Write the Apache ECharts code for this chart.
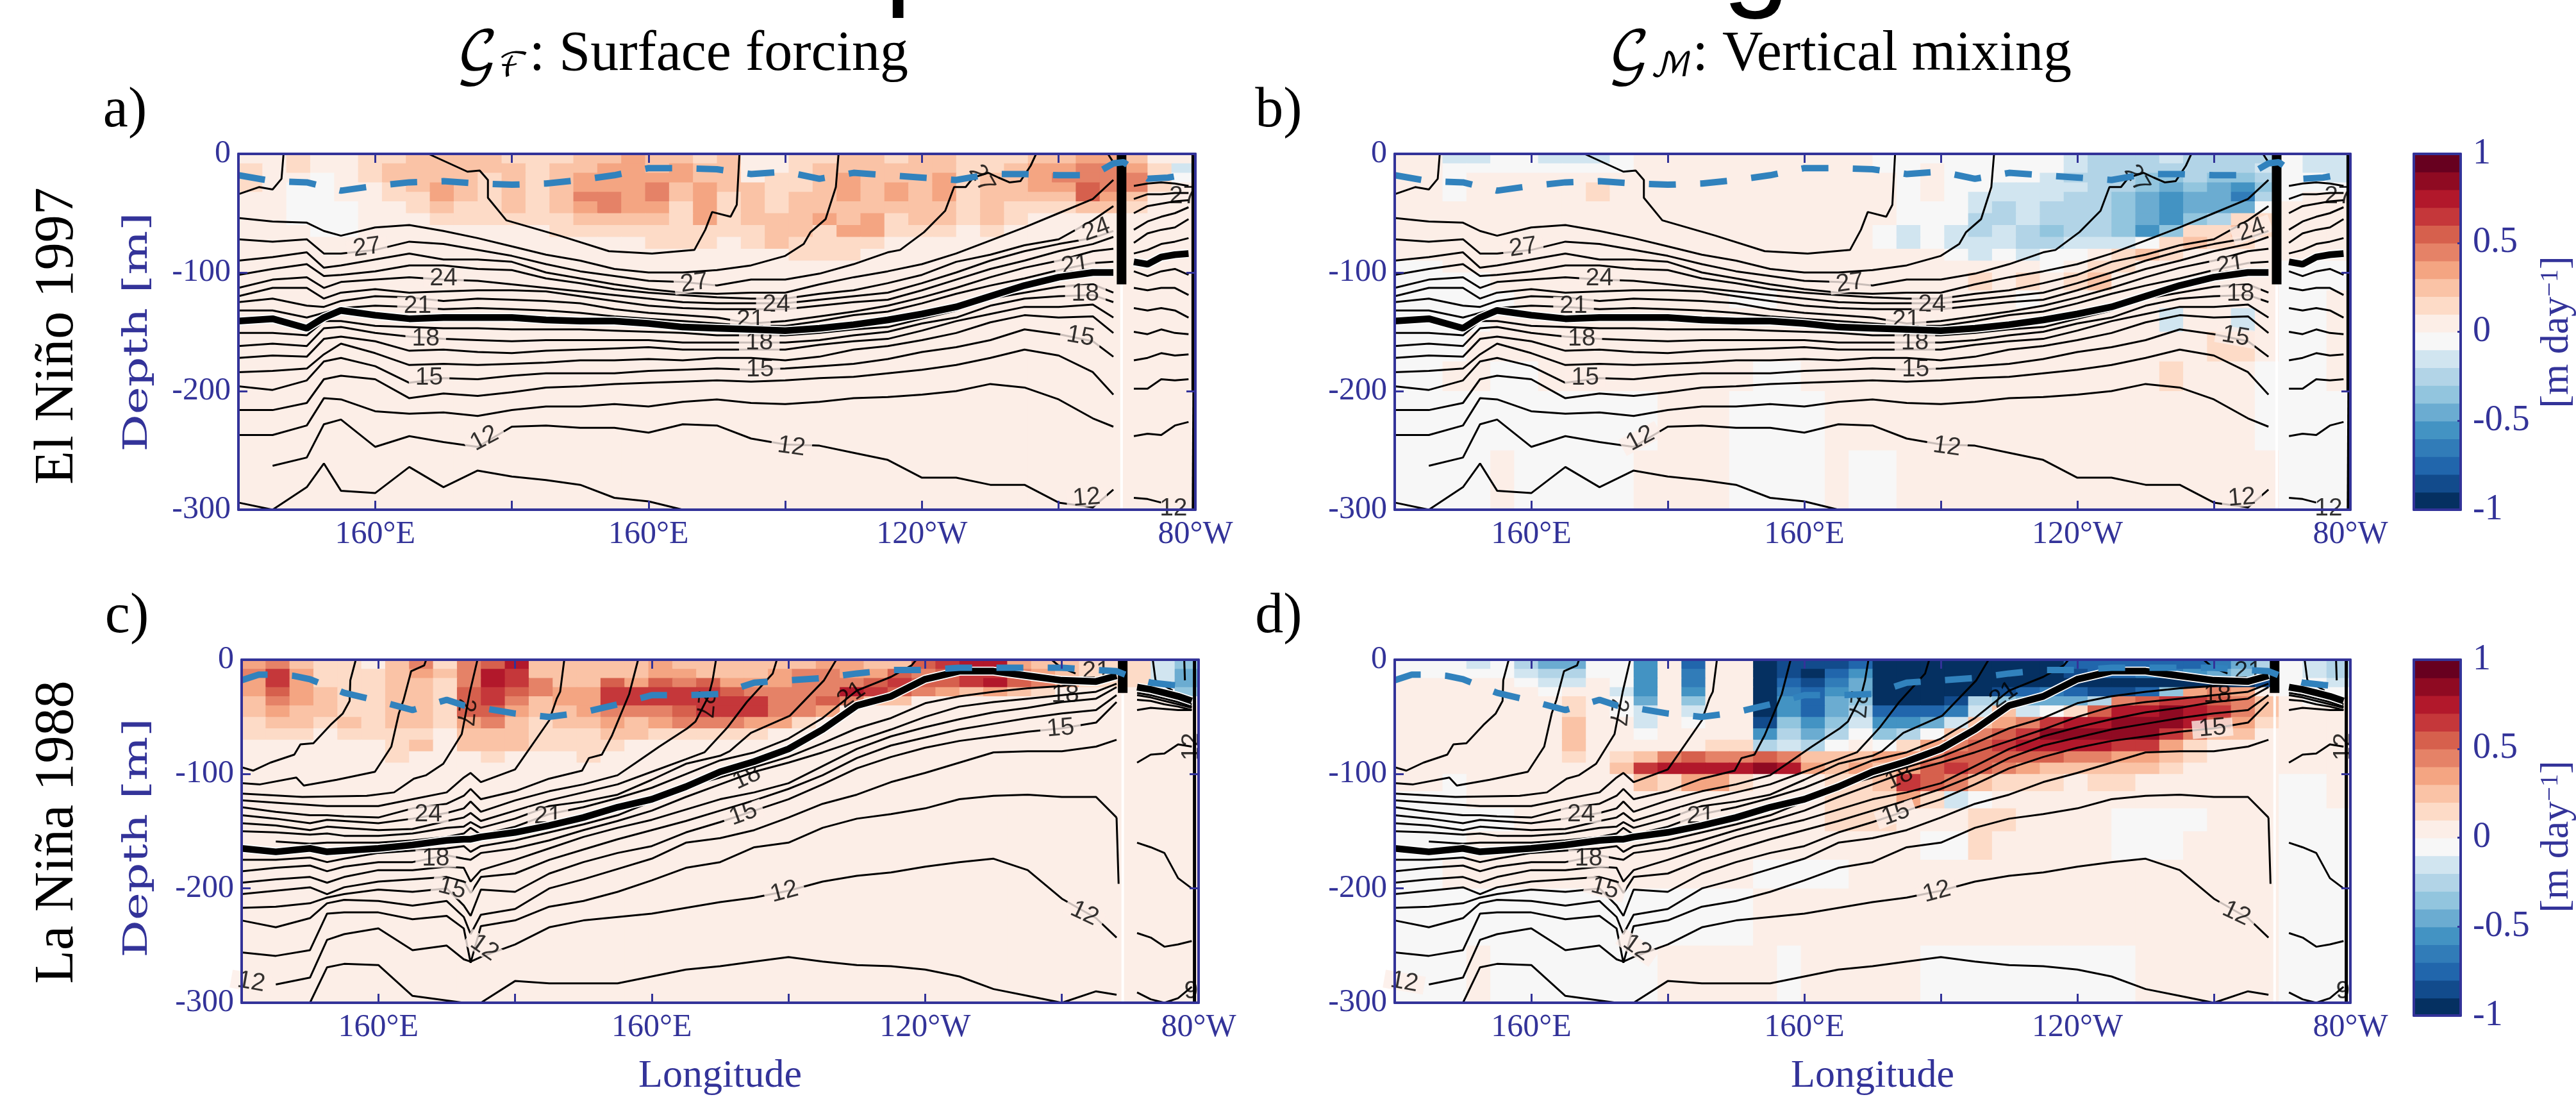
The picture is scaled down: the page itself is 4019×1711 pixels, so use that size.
<!DOCTYPE html>
<html><head><meta charset="utf-8">
<style>html,body{margin:0;padding:0;background:#fff;overflow:hidden}#c{width:4019px;height:1711px}</style>
<script src="https://cdn.jsdelivr.net/npm/echarts@6/dist/echarts.min.js"></script>
</head><body><div id="c"></div>
<script>
// Colour classes of the tendency, one band = 0.1 m/day
const posColors=['#fceee7','#fddbc7','#fac3a6','#f4a582','#e58267','#d6604d','#c5373a','#b2182b','#8f0a22','#67001f'];
const negColors=['#f7f7f7','#d1e5f0','#b2d4e7','#92c5de','#6bacd1','#4393c3','#317cb8','#2166ac','#124b8c','#053061'];
const colorbarBands=[-10,-9,-8,-7,-6,-5,-4,-3,-2,-1,1,2,3,4,5,6,7,8,9,10];
const tickNames={160:'160°E',200:'160°E',240:'120°W',280:'80°W'};
const depthEdges=[0,8,16,24,32,40,50,60,70,80,90,100,115,130,150,175,200,250,300];
const cellLon=3.5;
// a) surface forcing 1997
const heatA=[
[1,1,2,1,1,2,2,3,3,3,3,2,2,2,3,3,4,3,3,2,3,1,1,2,2,3,3,2,3,3,2,2,2,3,3,4,4,3,1,1],
[2,1,2,1,1,2,3,3,3,3,3,3,2,3,3,4,4,3,4,3,3,1,1,2,3,3,3,3,3,3,2,2,3,4,4,5,5,4,2,-2],
[2,1,1,-1,1,2,3,3,3,3,2,3,2,3,4,4,4,4,4,3,3,1,2,2,3,4,3,3,3,4,2,3,3,4,5,5,5,5,2,-1],
[2,1,-1,-1,1,1,2,3,4,3,2,3,2,3,4,4,4,5,3,4,3,3,2,2,3,4,3,4,3,4,2,3,3,4,4,6,5,5,2,1],
[1,1,-1,-1,1,1,2,2,4,3,2,3,2,3,5,5,4,5,3,4,2,3,2,3,3,4,3,4,3,4,2,3,3,3,3,6,4,3,1,1],
[1,1,-1,-1,-1,1,1,2,3,2,2,3,2,3,4,5,4,4,2,4,2,3,2,3,3,3,3,3,3,3,2,3,2,2,2,3,3,2,1,1],
[1,1,-1,-1,-1,1,1,1,2,2,2,2,2,2,3,3,3,3,2,4,2,3,3,3,4,3,4,2,3,3,2,3,2,1,1,1,1,1,1,1],
[1,1,1,-1,-1,1,1,1,1,1,1,1,1,2,2,2,2,2,2,2,2,2,3,3,2,4,4,2,2,2,1,2,1,1,1,1,1,1,1,1],
[1,1,1,1,1,1,1,1,1,1,1,1,1,1,1,1,1,2,2,2,1,2,3,2,2,2,2,1,1,1,1,1,1,1,1,1,1,1,1,1],
[1,1,1,1,1,1,1,1,1,1,1,1,1,1,1,1,1,1,1,1,1,1,1,2,2,2,1,1,1,1,1,1,1,1,1,1,1,1,1,1]];
// b) vertical mixing 1997
const heatB=[
[1,1,-2,-2,-1,-1,-2,-2,-2,-1,1,1,1,1,1,1,1,1,1,1,-1,-1,-1,-1,-1,-1,-1,-1,-2,-3,-3,-3,-2,-3,-3,-3,-3,-1,-2,-2],
[1,1,-1,-1,-1,-1,-1,-1,-1,-1,1,1,1,1,1,1,1,1,1,1,-1,-1,1,-1,-1,-1,-1,-1,-2,-3,-3,-3,-3,-3,-3,-3,-2,-1,-2,-2],
[1,1,-1,1,1,1,1,1,1,1,1,1,1,1,1,1,1,1,1,1,1,-1,1,-1,-1,-1,-1,-2,-3,-3,-3,-4,-4,-3,-4,-4,-3,-1,-1,-2],
[1,1,-1,1,1,1,1,1,2,1,1,1,1,1,1,1,1,1,1,1,1,-1,1,-1,-1,-2,-2,-2,-2,-3,-3,-4,-5,-4,-5,-6,-4,-1,-1,-1],
[1,1,-1,1,1,1,1,1,2,1,1,1,1,1,1,1,1,1,1,1,1,-1,1,-1,-2,-2,-2,-2,-3,-3,-4,-5,-6,-5,-5,-7,-3,-1,1,1],
[1,1,1,1,1,1,1,1,1,1,1,1,1,1,1,1,1,1,1,1,1,-1,-1,-1,-2,-3,-2,-3,-3,-3,-4,-5,-6,-5,-5,-5,-1,1,1,1],
[1,1,1,1,1,1,1,1,1,1,1,1,1,1,1,1,1,1,1,1,1,-1,-1,-1,-3,-3,-2,-3,-3,-3,-4,-5,-6,-4,-3,2,2,1,1,1],
[1,1,1,1,1,1,1,1,1,1,1,1,1,1,1,1,1,1,1,1,-1,-2,-1,-2,-3,-2,-3,-4,-3,-3,-4,-6,-4,2,2,3,2,1,1,1],
[1,1,1,1,1,1,1,1,1,1,1,1,1,1,1,1,1,1,1,1,-1,-2,-1,-2,-2,-2,-3,-3,-2,-2,-2,-1,2,3,2,2,1,1,1,1],
[1,1,1,1,1,1,1,1,1,1,1,1,1,1,1,1,1,1,1,1,1,1,1,-1,-2,-1,-2,-1,-1,1,2,3,2,1,1,1,1,1,1,1],
[-1,-1,1,1,1,1,1,1,1,1,1,1,1,1,1,1,1,1,1,1,1,1,1,1,1,1,1,-1,1,2,2,1,1,1,1,1,1,-1,-1,-1],
[-1,-1,-1,-1,1,1,1,1,1,1,1,1,1,1,1,1,1,1,1,1,1,1,1,1,2,1,2,1,2,3,1,1,1,1,1,1,1,-1,-1,-1],
[-1,-1,-1,-1,-1,1,1,1,1,1,1,1,1,1,-1,-1,1,1,1,1,1,1,1,1,1,1,-1,1,1,1,1,1,1,1,1,1,1,-1,-1,1],
[-1,-1,-1,-1,1,1,1,1,1,1,1,1,1,1,1,1,1,1,1,1,1,1,1,1,1,1,1,1,1,1,1,1,-2,1,1,-2,1,-1,-1,1],
[-1,-1,-1,1,1,1,1,1,1,1,1,1,1,1,1,1,1,1,1,1,1,1,1,1,1,1,1,1,1,1,1,1,1,1,2,2,1,-1,-1,1],
[-1,-1,1,1,-1,-1,1,1,1,1,1,1,1,1,1,-1,-1,1,1,1,1,1,1,1,1,1,1,1,1,1,1,1,2,1,1,1,-1,-1,-1,1],
[-1,-1,-1,-1,-1,-1,-1,-1,-1,-1,-1,1,1,1,-1,-1,-1,-1,1,1,1,1,1,1,1,1,1,1,1,1,1,1,1,1,1,1,-1,-1,-1,-1],
[-1,-1,-1,-1,1,-1,-1,-1,-1,-1,1,1,1,1,-1,-1,-1,-1,1,-1,-1,1,1,1,1,1,1,1,1,1,1,1,1,1,1,1,1,-1,-1,-1]];
// c) surface forcing 1988
const heatC=[
[4,5,3,2,2,1,3,5,2,5,6,8,3,3,3,3,3,4,3,3,3,3,3,3,4,4,3,3,6,7,8,8,4,3,3,2,2,2,-2,-4],
[5,7,4,2,2,2,3,4,3,5,8,7,3,3,3,3,3,4,4,3,3,3,4,5,5,4,4,6,5,6,7,7,5,4,3,2,2,2,-2,-5],
[4,7,4,2,2,2,3,3,2,5,8,7,5,3,3,6,4,6,5,6,4,4,4,5,5,5,6,7,6,6,7,8,6,5,4,2,2,2,-2,-5],
[4,6,4,3,2,2,3,3,2,6,7,6,5,4,4,7,7,7,7,7,6,5,5,5,5,8,7,6,5,4,3,4,3,2,1,1,1,1,-1,-4],
[3,5,4,3,2,2,3,3,2,6,7,5,3,4,4,7,7,7,7,7,7,7,5,5,6,5,3,3,1,1,1,1,1,1,1,1,1,1,1,-1],
[3,4,3,3,2,2,3,3,2,6,6,4,3,3,4,5,5,5,6,7,7,7,5,5,4,1,1,1,1,1,1,1,1,1,1,1,1,1,1,1],
[2,3,3,2,3,2,3,3,2,4,5,3,2,3,3,4,3,4,5,5,5,4,4,2,1,1,1,1,1,1,1,1,1,1,1,1,1,1,1,1],
[2,2,2,1,2,2,2,2,1,3,3,3,2,2,2,3,3,2,2,2,2,2,1,1,1,1,1,1,1,1,1,1,1,1,1,1,1,1,1,1],
[1,1,1,1,1,1,2,3,1,3,3,3,2,2,2,2,1,1,1,1,1,1,1,1,1,1,1,1,1,1,1,1,1,1,1,1,1,1,1,1],
[1,1,1,1,1,1,2,1,1,1,2,1,1,1,2,1,1,1,1,1,1,1,1,1,1,1,1,1,1,1,1,1,1,1,1,1,1,1,1,1]];
// d) vertical mixing 1988
const heatD=[
[-1,-1,-1,-2,-1,-3,-5,-5,-1,-1,-6,1,-8,1,1,-10,-9,-9,-9,-8,-10,-10,-10,-10,-10,-10,-10,-10,-8,-8,-8,-8,-8,-8,-7,-5,-3,-1,-2,-3],
[-1,-1,-1,-1,-1,-2,-3,-3,-1,-1,-6,1,-7,1,1,-10,-9,-10,-8,-6,-10,-10,-10,-10,-10,-10,-10,-10,-9,-8,-8,-7,-7,-6,-5,-4,-3,-1,-2,-3],
[1,1,1,1,1,-1,-2,-2,1,-1,-6,1,-7,1,1,-10,-8,-9,-7,-5,-10,-10,-10,-10,-10,-10,-10,-10,-10,-10,-10,-10,-10,-10,-10,-10,-9,-1,-1,-2],
[1,1,1,1,1,1,-1,1,1,-2,-6,1,-6,1,1,-10,-7,-8,-6,-5,-10,-10,-10,-10,-10,-9,-8,-7,-8,-9,-9,-8,-4,4,5,4,1,-1,-1,-1],
[1,1,1,1,1,1,1,2,1,-1,-5,1,-4,1,1,-10,-6,-8,-5,-4,-10,-10,-10,-9,-3,-4,-5,-5,-5,-3,5,6,7,7,6,5,3,1,-1,1],
[1,1,1,1,1,1,1,2,1,-1,-2,1,-2,1,1,-10,-6,-8,-5,-3,-8,-8,-8,-7,-2,3,-2,-1,2,6,8,8,9,8,7,5,3,1,1,1],
[1,1,1,1,1,1,1,3,1,1,-2,1,-1,1,1,-9,-4,-6,-4,-2,-6,-6,-5,-2,3,4,5,7,8,8,9,9,9,8,6,4,2,1,1,1],
[1,1,1,1,1,1,1,3,1,1,-1,1,1,1,1,-6,-3,-5,-3,-1,-4,-3,-1,3,5,6,7,9,9,9,9,9,7,5,3,3,1,1,1,1],
[1,1,1,1,1,1,1,3,1,1,1,1,1,2,2,-3,-2,-3,-1,1,-1,2,4,5,6,7,8,8,8,8,7,7,4,2,1,1,1,1,1,1],
[1,1,1,1,1,1,1,2,1,2,3,5,6,5,5,6,5,3,3,3,4,4,5,6,6,6,6,6,5,5,4,4,3,2,1,1,1,1,1,1],
[1,1,1,1,1,1,1,1,1,3,7,8,8,8,8,9,8,4,3,4,3,4,6,7,6,5,4,3,3,3,3,3,2,1,1,1,1,1,1,1],
[1,1,-1,1,1,1,1,1,1,1,3,2,4,4,2,1,1,1,2,2,3,7,6,5,3,2,2,2,1,2,2,1,1,1,1,1,1,-1,-1,1],
[-1,-1,-1,1,1,1,1,1,1,1,1,1,1,1,1,1,1,1,2,2,2,4,2,-2,-1,1,1,1,1,1,1,1,1,1,1,1,1,-1,-1,1],
[-1,-1,-1,-1,-1,1,1,1,1,1,1,1,1,1,1,1,1,1,2,2,2,1,1,1,2,2,1,1,1,1,-1,-1,-1,-1,1,1,1,-1,-1,-1],
[-1,-1,-1,1,1,1,1,1,1,1,1,1,1,1,1,1,1,1,1,1,1,1,-1,-1,2,1,1,1,1,1,-1,-1,-1,1,1,1,1,-1,-1,-1],
[-1,-1,1,1,1,1,1,1,1,1,1,1,1,1,1,-1,-1,-1,-1,1,1,1,1,1,1,1,1,1,1,1,1,1,1,1,1,1,1,-1,-1,-1],
[-1,-1,-1,-1,-1,-1,-1,-1,-1,-1,-1,-1,-1,-1,-1,1,1,1,1,1,1,1,1,1,1,1,1,1,1,1,1,1,1,1,1,1,1,-1,-1,-1],
[-1,-1,-1,1,-1,-1,-1,-1,-1,-1,-1,1,1,1,1,1,-1,1,1,1,1,1,-1,-1,-1,-1,-1,-1,-1,-1,-1,1,1,1,1,1,1,-1,-1,-1]];

// isotherm depths (m) sampled at these longitudes; null breaks the line at the land gap
const lon97=[140,145,150,152.5,155,160,165,170,175,180,185,190,195,200,205,210,215,220,225,230,235,240,245,250,255,260,265,268,269.5,271,273,275,277,279];
const iso97=[
[54,57,58,65,69,62,60,65,71,78,85,90,97,100,100,98,94,86],
[72,74,72,84,84,81,74,76,81,86,93,99,103,107,108,111,106,106,101,93,83],
[90,87,83,96,94,89,84,89,89,91,100,105,110,114,117,118,117,117,110,104,99,93,84,73,62,50,38,22,null,27,25,24,25,27],
[102,97,93,103,102,99,94,94,97,98,105,109,114,117,119,121,122,122,118,115,109,102,91,85,77,72,56,44,null,38,34,34,33,33],
[113,106,104,113,108,106,104,106,107,110,113,116,119,122,125,126,126,126,123,120,117,109,100,90,82,76,71,65,null,50,44,42,40,39],
[120,113,113,122,117,114,117,116,115,115,116,120,124,128,130,131,131,131,128,125,123,115,106,97,90,82,76,70,null,64,57,53,50,45],
[125,122,128,129,124,120,121,124,122,123,124,126,131,134,136,138,143,141,137,133,128,121,113,104,96,90,82,80,null,75,67,64,62,55],
[132,132,138,134,130,128,129,131,130,131,132,134,137,139,141,143,145,145,141,136,133,126,118,111,105,98,92,91,null,84,81,76,74,71],
[151,151,153,141,141,145,146,147,147,148,148,148,149,150,151,153,153,153,151,148,146,139,132,122,117,112,110,117,null,99,103,99,97,102],
[162,160,162,147,146,151,154,156,157,158,157,157,157,157,159,159,159,159,157,153,150,143,138,128,122,120,119,125,null,113,115,113,113,119],
[172,170,171,156,154,158,166,165,167,168,166,165,164,163,165,165,165,165,161,158,156,149,141,135,129,129,127,138,null,130,132,130,132,138],
[184,183,181,169,160,168,178,177,178,177,176,174,174,173,174,172,172,174,171,165,162,157,151,142,136,138,137,151,null,150,152,148,151,152],
[196,199,191,175,172,179,193,189,190,187,185,185,185,183,182,181,182,181,179,177,173,167,163,157,148,152,158,171,null,174,172,168,170,169],
[216,216,210,190,187,190,206,202,204,201,197,196,194,193,192,191,192,191,189,188,185,182,178,172,165,170,184,203,null,198,198,190,191,190],
[237,237,229,206,207,217,219,218,221,216,213,213,211,213,209,207,210,211,209,206,205,203,200,194,197,207,223,230,null,238,236,237,229,226],
[null,263,256,228,224,247,238,243,247,230,229,231,231,235,228,229,240,245,246,252,258,273,273,279,279,294,298,283,null,290,291,294],
[294,300,281,261,284,286,264,281,267,272,275,279,290,293,300]];
const thermocline97=[141,139,147,138,132,136,139,138,138,138,140,141,141,143,146,147,148,149,147,144,140,135,129,120,111,104,100,100,null,91,93,87,85,84];
const tails97=[
[[222.7,76],[223.7,66],[225.9,55],[227.4,28],[227.8,0]],
[[236.8,81],[240.3,66],[243.4,48],[244.7,28],[246.4,28],[247.5,20],[249.7,16],[251.2,20],[252.8,24],[254.4,23],[255.9,10],[256.7,0]]];
const surface97=[
[[140,34],[143,28],[145,30],[146.3,21],[146.6,0]],
[[167.8,0],[173.5,15],[175.3,14],[176.5,22],[176.5,37],[179.2,56],[187,69],[194.2,82],[200.5,84],[206.7,81],[208.3,64],[209.3,49],[212,53],[212.9,43],[213.3,0]],
[[267.2,0],[268.2,9]]];
const mldLon97=[140,145,150,155,160,165,170,175,180,185,190,195,200,205,210,215,220,225,230,235,240,245,250,255,260,265,268,269.5,273,276,279.8];
const mld97=[18,23,24,31,27,24,23,25,26,25,22,18,12,12,13,17,15,21,16,18,20,22,17,17,18,18,8,7,21,20,16];
// lon, depth, text, rotation, masked
const labels97=[[158.8,79,'27',8,1],[170,105,'24',0,1],[166.2,128,'21',0,1],[167.4,156,'18',0,1],[167.9,189,'15',0,1],[176,240,'12',28,1],
[206.7,109,'27',8,1],[218.7,127,'24',0,1],[214.9,140,'21',0,1],[216.2,159,'18',0,1],[216.3,182,'15',0,1],[220.9,247,'12',-8,1],
[265.5,64,'24',20,1],[262.4,94,'21',8,1],[263.9,118,'18',0,1],[263.2,154,'15',-10,1],[264.1,290,'12',5,1],[276.8,299,'12',0,0],[248.7,21,'27',-60,0],[278.2,36,'27',0,0]];
const wall97=[[[279.8,0],[279.8,200]],[[279.8,200],[279.7,300]]];
const bar97=[[269.2,0],[269.2,110]];
const gap97=[[269.2,110],[269.2,300]];

const lon88=[140,145,150,152.5,155,160,165,170,172.5,173.5,175,180,185,190,195,200,205,210,215,220,225,230,235,240,245,250,255,260,265,268,269.5,271,273,275,277,279];
const iso88=[
[123,125,127,128,128,128,122,116,103,99,107,96,53],
[129,133,136,136,137,138,130,126,119,113,122,115,104],
[136,139,143,140,141,143,139,134,130,124,133,123,115,109,101],
[143,145,149,146,147,149,148,141,138,134,141,132,123,116,109,98,87],
[150,151,153,152,154,154,152,147,146,142,147,139,128,124,118,105,91,84],
[null,159,161,160,160,160,158,155,152,147,153,146,135,129,121,112,100,88,81,69,51,27,15],
[175,175,173,177,174,169,167,165,163,168,163,158,151,144,136,124,111,103,94,85,73,60,51,38,32,28,25,23,19,16,null,27,29,32,35,39],
[185,182,180,185,181,177,177,171,174,175,169,165,158,149,141,132,120,109,98,90,81,71,61,50,41,37,34,31,28,21,null,29,31,34,37,41],
[195,192,190,195,190,184,184,181,182,194,184,175,165,155,147,140,131,122,116,108,93,78,67,59,52,46,42,37,34,24,null,31,33,36,39,42],
[205,202,199,205,199,194,192,190,194,204,190,187,175,166,157,149,141,132,123,113,101,86,75,68,61,56,51,47,44,31,null,35,36,39,41,44],
[217,216,213,208,205,201,203,200,215,224,201,203,187,177,169,163,151,142,132,122,109,95,85,77,71,67,63,60,55,37,null,44,42,43,44,44],
[228,234,226,213,210,211,215,211,225,240,223,218,200,192,183,174,160,156,149,138,126,118,107,99,90,81,80,80,76,70,null,90,83,82,74,76],
[256,259,254,222,221,221,227,224,235,265,233,228,216,211,203,193,182,177,164,160,147,139,135,130,122,119,118,120,120,138,null,160,164,169,191,200],
[null,284,278,245,240,235,254,250,262,264,260,249,234,228,225,222,217,212,208,202,194,189,186,181,177,174,184,209,226,243,null,239,243,251,249,246],
[null,null,300,269,266,267,294,298,300,300,300,281,283,283,283,277,271,268,264,260,264,267,268,271,277,288,294,300,290,293,null,291,297,300,296,286]];
const thermocline88=[165,168,165,168,167,165,162,158,157,157,155,151,145,138,129,122,111,98,89,78,61,40,32,17,10,10,14,18,19,14,null,24,26,29,32,36];
const tails88=[
[[186.1,34],[186.6,28],[187.2,0]],
[[189.8,97],[190.8,86],[192.7,83],[194.2,66],[196.7,30],[198,0]],
[[197.7,90],[201.1,76],[205.2,60],[206.4,54],[208.3,32],[208.9,18],[209.4,0]],
[[207.7,81],[211.1,59],[213.9,37],[217.7,12],[218.3,0]],
[[211.4,80],[214.5,64],[220.2,49],[225.2,18],[226.8,2],[227,0]],
[[238,5],[238.7,0]]];
const surface88=[
[[140,94],[141.7,97],[144.2,90],[147.7,83],[148.6,74],[150.5,73],[153,57],[154.8,47],[155.8,36],[155.9,18],[156.7,0]],
[[140,108],[142.7,109],[148,103],[149.1,110],[153.9,105],[159.5,98],[161.9,76],[163,47],[163.7,35],[164.8,10],[166.7,5],[167,0]],
[[140,117],[148.9,120],[158.3,119],[162.3,116],[165.2,104],[167,101],[169.5,91],[172.2,65],[173.4,28],[174.5,0]],
[[258.5,0],[259.9,7],[262,12]],
[[273.3,0],[273.7,18],[276.2,27]],
[[277.9,0],[278,18]],
[[268,138],[268.3,196]]];
const mldLon88=[140,142.5,145,147.5,150,155,160,165,170,172.5,175,180,185,190,195,200,205,210,215,220,225,230,235,240,245,250,255,260,265,268,271,273,276,279.8];
const mld88=[18,13,13,14,17,29,36,44,35,40,42,47,50,46,39,31,31,30,20,18,16,12,9,9,7,7,7,7,9,10,17,20,22,24];
const labels88=[[167.3,135,'24',0,1],[168.4,174,'18',0,1],[170.8,200,'15',-15,1],[172.7,46,'27',-95,0],[141.4,282,'12',-10,1],[175.5,252,'12',-35,1],
[207.7,39,'27',-95,0],[229.2,31,'21',35,0],[184.8,137,'21',0,1],[213.9,103,'18',25,0],[213.4,135,'15',20,1],[219.4,203,'12',15,1],
[260.5,31,'18',0,0],[259.8,60,'15',5,1],[263.3,222,'12',-25,1],[265,10,'21',0,0],[279,76,'12',90,0],[278.9,290,'9',0,0]];
const wall88=[[[279.4,0],[279.4,300]]];
const bar88=[[268.9,0],[268.9,29]];
const gap88=[[268.9,30],[268.9,300]];

const INK='#333399', MLD='#3182bd';
const bandColor=b=>b>0?posColors[b-1]:negColors[-b-1];
const rectItem=(params,api)=>{
  const a=api.coord([api.value(0),api.value(2)]), b=api.coord([api.value(1),api.value(3)]);
  return {type:'rect',shape:{x:Math.min(a[0],b[0]),y:Math.min(a[1],b[1]),width:Math.abs(b[0]-a[0])+1,height:Math.abs(b[1]-a[1])+1},
    style:{fill:bandColor(api.value(4))}};
};
function cells(matrix){
  const out=[];
  for(let r=0;r<depthEdges.length-1;r++)for(let c=0;c<40;c++){
    const row=matrix[r]; const b=row&&row[c]!==undefined?row[c]:1;
    out.push([140+c*cellLon,140+(c+1)*cellLon,depthEdges[r],depthEdges[r+1],b]);
  }
  return out;
}
const grids=[],xAxes=[],yAxes=[],series=[];
function axes(g,showX){
  const tick={show:true,inside:true,length:14,lineStyle:{color:INK,width:3}};
  const line={show:true,onZero:false,lineStyle:{color:INK,width:4}};
  const lab={show:true,color:INK,fontFamily:'Liberation Serif',fontSize:50};
  xAxes.push({gridIndex:g,type:'value',min:140,max:280,interval:20,z:10,position:'bottom',axisLine:line,axisTick:tick,splitLine:{show:false},
    axisLabel:{...lab,margin:14,showMaxLabel:true,hideOverlap:false,formatter:v=>tickNames[v]||''},
    name:showX?'Longitude':'',nameLocation:'middle',nameGap:84,nameTextStyle:{color:INK,fontFamily:'Liberation Serif',fontSize:62}});
  xAxes.push({gridIndex:g,type:'value',min:140,max:280,interval:20,z:10,position:'top',axisLine:line,axisTick:tick,axisLabel:{show:false},splitLine:{show:false}});
  yAxes.push({gridIndex:g,type:'value',min:0,max:300,interval:100,inverse:true,z:10,position:'left',axisLine:line,axisTick:tick,splitLine:{show:false},
    axisLabel:{...lab,margin:12,formatter:v=>v?'-'+v:'0'}});
  yAxes.push({gridIndex:g,type:'value',min:0,max:300,interval:100,inverse:true,z:10,position:'right',axisLine:line,axisTick:tick,axisLabel:{show:false},splitLine:{show:false}});
}
function panel(cfg){
  const g=grids.length;
  grids.push({left:cfg.left,top:cfg.top,width:cfg.width,height:555,show:true,backgroundColor:'#fff',borderWidth:0});
  axes(g,cfg.showX);
  const xi=g*2, yi=g*2; // primary axes of this grid
  const base={xAxisIndex:xi,yAxisIndex:yi,animation:false,silent:true};
  series.push({...base,type:'custom',renderItem:rectItem,data:cells(cfg.heat),z:1,clip:true,
    encode:{x:[0,1],y:[2,3]},dimensions:['lon0','lon1','d0','d1','band']});
  const ln=(data,width,color,z,extra)=>series.push({...base,type:'line',data,showSymbol:false,symbol:'none',connectNulls:false,clip:true,z:z||3,
    lineStyle:{color:color||'#000',width:width||3,...(extra||{})}});
  const lons=cfg.lons;
  cfg.iso.forEach((arr,k)=>{
    const pts=arr.map((v,i)=>[lons[i],v]);
    const tail=cfg.tails[cfg.tailOf[k]];
    ln(tail&&cfg.tailOf[k]!==undefined?pts.concat(tail):pts);
  });
  cfg.surface.forEach(p=>ln(p));
  series.push({...base,type:'scatter',z:4,symbol:'circle',symbolSize:1,itemStyle:{color:'rgba(0,0,0,0)'},clip:false,
    data:cfg.labels.map(l=>({value:[l[0],l[1]],label:{show:true,position:'inside',formatter:l[2],rotate:l[3],color:'#000',textBorderWidth:0,fontFamily:'Liberation Sans',fontSize:39,lineHeight:28,
      backgroundColor:l[4]?cfg.mask:'transparent',padding:[0,10]}}))});
  const thermo=cfg.thermo.map((v,i)=>[lons[i],v]);
  ln(thermo,14,'#fff',5);
  ln(thermo,10.5,'#000',6);
  ln(cfg.gap,4,'#fff',6);
  ln(cfg.bar,15,'#000',7);
  cfg.wall.forEach((w,i)=>ln(w,cfg.wallW[i],'#000',7));
  ln(cfg.mldLon.map((x,i)=>[x,cfg.mld[i]]),10,MLD,8,{type:[42,38],cap:'butt'});
}
const cfg97={lons:lon97,iso:iso97,tails:tails97,tailOf:{0:0,1:1},surface:surface97,thermo:thermocline97,labels:labels97,wall:wall97,wallW:[8,5],bar:bar97,gap:gap97,mldLon:mldLon97,mld:mld97,mask:'#fceee7'};
const cfg88={lons:lon88,iso:iso88,tails:tails88,tailOf:{0:0,1:1,2:2,3:3,4:4,5:5},surface:surface88,thermo:thermocline88,labels:labels88,wall:wall88,wallW:[5],bar:bar88,gap:gap88,mldLon:mldLon88,mld:mld88,mask:'#fceee7'};
panel({...cfg97,left:372,top:240,width:1493,heat:heatA,showX:false});
panel({...cfg97,left:2176,top:240,width:1491,heat:heatB,showX:false});
panel({...cfg88,left:377,top:1029,width:1493,heat:heatC,showX:true});
panel({...cfg88,left:2176,top:1029,width:1491,heat:heatD,showX:true});
// colour bars
[240,1029].forEach(top=>{
  const g=grids.length;
  grids.push({left:3766,top,width:73,height:555,show:false});
  const line={show:true,onZero:false,lineStyle:{color:INK,width:4}};
  xAxes.push({gridIndex:g,type:'value',min:0,max:1,position:'bottom',axisLine:line,axisTick:{show:false},axisLabel:{show:false},splitLine:{show:false},z:10});
  xAxes.push({gridIndex:g,type:'value',min:0,max:1,position:'top',axisLine:line,axisTick:{show:false},axisLabel:{show:false},splitLine:{show:false},z:10});
  yAxes.push({gridIndex:g,type:'value',min:-1,max:1,interval:0.5,position:'right',z:10,axisLine:line,axisTick:{show:true,inside:true,length:5,lineStyle:{color:INK,width:3}},splitLine:{show:false},
    axisLabel:{color:INK,fontFamily:'Liberation Serif',fontSize:56,margin:19,formatter:v=>String(v)}});
  yAxes.push({gridIndex:g,type:'value',min:-1,max:1,position:'left',z:10,axisLine:line,axisTick:{show:false},axisLabel:{show:false},splitLine:{show:false}});
  series.push({type:'custom',xAxisIndex:g*2,yAxisIndex:g*2,animation:false,silent:true,z:1,renderItem:rectItem,encode:{x:[0,1],y:[2,3]},dimensions:['x0','x1','v0','v1','band'],
    data:colorbarBands.map((b,i)=>[0,1,-1+i*0.1,-1+(i+1)*0.1,b])});
});
const serif='Liberation Serif';
const txt=(x,y,text,size,extra)=>({type:'text',x,y,silent:true,style:{text,fill:'#000',fontFamily:serif,fontSize:size,textAlign:'center',textVerticalAlign:'middle',...(extra||{})}});
const rot=(x,y,text,size,fill,extra,sx)=>({type:'text',x,y,rotation:Math.PI/2,scaleX:sx||1,silent:true,style:{text,fill,fontFamily:serif,fontSize:size,textAlign:'center',textVerticalAlign:'middle',...(extra||{})}});
const titleRich={s:{fontFamily:'DejaVu Math TeX Gyre',fontSize:88},b:{fontFamily:'DejaVu Math TeX Gyre',fontSize:52,verticalAlign:'bottom'},t:{fontFamily:serif,fontSize:88}};
const unitRich={a:{fontFamily:serif,fontSize:62,fill:INK},u:{fontFamily:serif,fontSize:40,fill:INK,verticalAlign:'top'}};
const graphic=[
  {type:'text',x:1380,y:32,silent:true,style:{text:'p',fill:'#000',fontFamily:'Liberation Sans',fontSize:190,textAlign:'left',textVerticalAlign:'bottom'}},
  {type:'text',x:2687,y:34,silent:true,style:{text:'g',fill:'#000',fontFamily:'Liberation Sans',fontSize:190,textAlign:'left',textVerticalAlign:'bottom'}},
  txt(1064,86,'{s|𝒢}{b|ℱ}{t|: Surface forcing}',88,{rich:titleRich}),
  txt(2870,86,'{s|𝒢}{b|ℳ}{t|: Vertical mixing}',88,{rich:titleRich}),
  txt(195,174,'a)',88),txt(1995,174,'b)',88),txt(198,963,'c)',88),txt(1995,963,'d)',88),
  rot(90,524,'El Niño 1997',86,'#000'),rot(90,1298,'La Niña 1988',86,'#000'),
  rot(215,518,'Depth [m]',52,INK,{fontFamily:'DejaVu Serif'},1.4),rot(215,1307,'Depth [m]',52,INK,{fontFamily:'DejaVu Serif'},1.4),
  rot(3990,518,'{a|[m day}{u|−1}{a|]}',62,INK,{rich:unitRich}),rot(3990,1305,'{a|[m day}{u|−1}{a|]}',62,INK,{rich:unitRich})
];
const chart=echarts.init(document.getElementById('c'),null,{renderer:'canvas'});
chart.setOption({animation:false,backgroundColor:'#fff',grid:grids,xAxis:xAxes,yAxis:yAxes,series,graphic});
</script></body></html>
